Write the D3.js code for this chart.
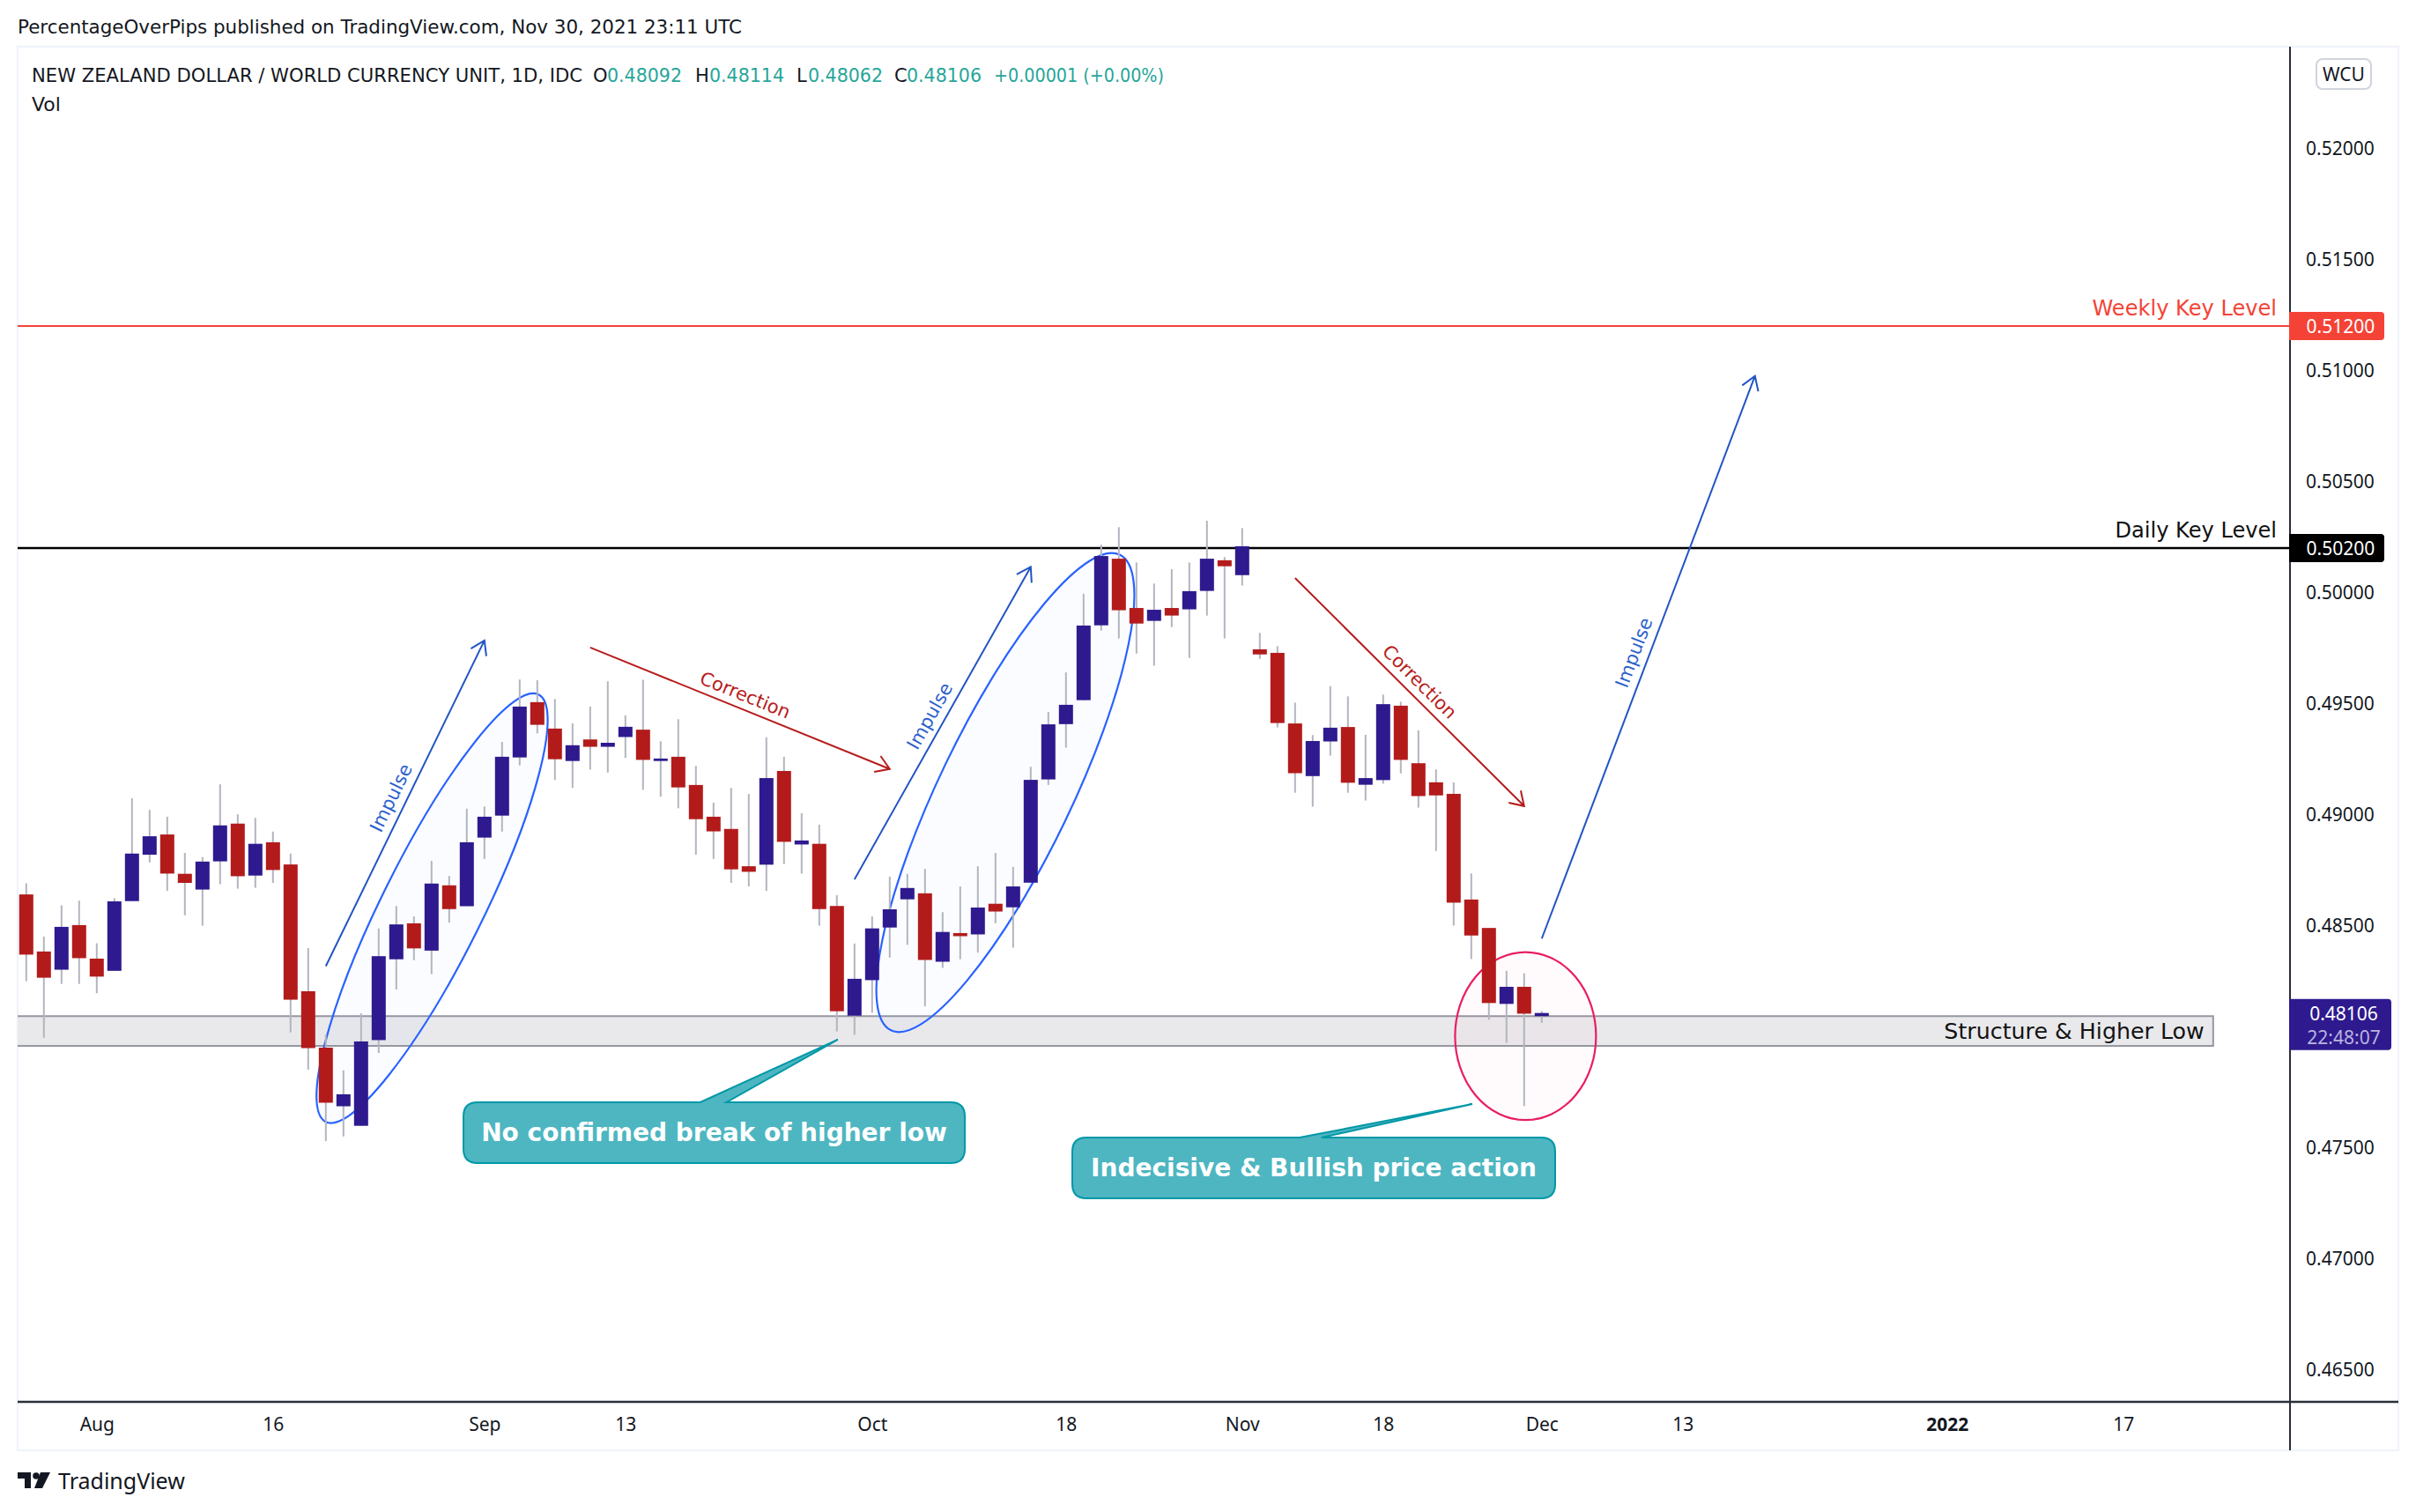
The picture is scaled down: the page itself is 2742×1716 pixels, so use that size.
<!DOCTYPE html>
<html><head><meta charset="utf-8">
<style>html,body{margin:0;padding:0;background:#fff}svg{display:block}</style>
<script src="https://cdn.jsdelivr.net/npm/d3@7/dist/d3.min.js"></script>
</head><body><svg id="c" width="2742" height="1716"></svg>
<script>
const opens=[.48640,.48383,.48301,.48502,.48351,.48296,.48610,.48819,.48910,.48733,.48662,.48789,.48959,.48725,.48875,.48775,.48204,.47950,.47686,.47598,.47984,.48348,.48510,.48387,.48681,.48587,.48896,.48995,.49257,.49506,.49387,.49241,.49338,.49305,.49349,.49382,.49241,.49260,.49133,.48990,.48935,.48767,.48774,.49196,.48865,.48868,.48588,.48094,.48254,.48491,.48618,.48645,.48337,.48466,.48460,.48598,.48582,.48693,.49158,.49407,.49515,.49852,.50152,.49930,.49872,.49930,.49924,.50007,.50145,.50078,.49744,.49728,.49410,.49173,.49329,.49394,.49134,.49155,.49490,.49231,.49145,.49093,.48617,.48489,.48147,.48224,.48092];
const highs=[.48690,.48450,.48591,.48612,.48420,.48623,.49073,.49021,.48990,.48827,.48808,.49136,.49001,.48985,.48923,.48824,.48399,.48008,.47848,.48105,.48487,.48588,.48541,.48791,.48723,.49026,.49036,.49327,.49608,.49605,.49520,.49410,.49486,.49600,.49447,.49607,.49330,.49429,.49219,.49053,.49120,.49093,.49348,.49260,.49006,.48954,.48637,.48419,.48541,.48720,.48733,.48755,.48560,.48676,.48767,.48827,.48764,.49215,.49462,.49640,.49994,.50215,.50294,.50135,.50040,.50105,.50135,.50323,.50159,.50290,.49818,.49758,.49504,.49358,.49578,.49532,.49359,.49540,.49508,.49379,.49203,.49145,.48735,.48489,.48296,.48285,.48114];
const lows=[.48249,.47995,.48237,.48237,.48195,.48296,.48610,.48784,.48656,.48546,.48499,.48686,.48666,.48670,.48692,.48019,.47851,.47529,.47550,.47598,.47926,.48212,.48344,.48281,.48513,.48587,.48800,.48923,.49221,.49365,.49156,.49120,.49202,.49189,.49255,.49111,.49080,.49028,.48819,.48800,.48692,.48676,.48656,.48777,.48734,.48499,.48023,.48008,.48107,.48356,.48413,.48136,.48309,.48348,.48378,.48510,.48400,.48693,.49133,.49301,.49515,.49828,.49793,.49725,.49670,.49844,.49705,.49896,.49793,.50031,.49701,.49392,.49098,.49035,.49265,.49098,.49063,.49139,.49185,.49031,.48836,.48500,.48349,.48075,.47972,.47687,.48062];
const closes=[.48369,.48265,.48494,.48353,.48270,.48609,.48824,.48902,.48734,.48692,.48788,.48951,.48722,.48868,.48750,.48166,.47948,.47702,.47740,.47978,.48362,.48505,.48397,.48689,.48574,.48875,.48990,.49260,.49486,.49404,.49249,.49312,.49305,.49323,.49395,.49246,.49252,.49122,.48979,.48924,.48753,.48742,.49164,.48877,.48883,.48574,.48114,.48260,.48487,.48573,.48669,.48345,.48471,.48452,.48581,.48563,.48676,.49156,.49406,.49494,.49851,.50164,.49920,.49860,.49922,.49896,.50006,.50152,.50118,.50208,.49721,.49412,.49186,.49331,.49391,.49143,.49164,.49497,.49246,.49083,.49086,.48603,.48455,.48151,.48224,.48103,.48106];

const priceTicks=[.465,.47,.475,.48,.485,.49,.495,.5,.505,.51,.515,.52];
const timeTickBars=[4,14,26,34,48,59,69,77,86,94,109,119];
const timeTickLabels=["Aug","16","Sep","13","Oct","18","Nov","18","Dec","13","2022","17"];

const weeklyLevel=.512, dailyLevel=.502, lastPrice=.48106;
const bandTop=.48092, bandBottom=.47958, bandEndBar=124.1;
// drawings anchored in [bar index, price]
const arrowsBlue=[[[17.0,.48317],[26.0,.49784]],[[47.0,.48708],[57.0,.50115]],[[86.0,.48441],[98.1,.50975]]];
const arrowsRed=[[[32.0,.49752],[49.0,.49205]],[[72.0,.50065],[85.0,.49038]]];
const impulseAnchors=[[20.71,.49075],[51.28,.49443],[91.24,.49729]];
const correctionAnchors=[[40.79,.49537],[79.06,.49597]];
// centre, end of major axis, end of minor axis
const ellipsesBlue=[[[23.03,.48578],[29.07,.4954],[25.59,.48477]],[[55.56,.49099],[62.05,.5017],[58.95,.4897]]];
const ellipsesPink=[[[85.08,.48002],[85.08,.4838],[89.08,.48002]]];
// box corners, pointer base bars, tip
const callouts=[
 {text:"No confirmed break of higher low",box:[[24.81,.47704],[53.26,.4743]],base:[38.25,39.74],tip:[46.05,.47986]},
 {text:"Indecisive & Bullish price action",box:[[59.36,.47545],[86.76,.47271]],base:[72.26,73.5],tip:[82.06,.47696]}];

const svg=d3.select("#c");
const FL=20,FR=2722,FT=53,FB=1646,AX=2599,AY=1591;
const x=d3.scaleLinear().domain([0,119]).range([29.8,2409.8]);
const y=d3.scaleLinear().domain([.512,.465]).range([370,1554.4]);
const UI="'Noto Sans',sans-serif", DR="'DejaVu Sans',sans-serif";
const UP="#2e1a8e", DOWN="#b31b1b", WICK="#b2b5be", AXC="#2a2e39", TXT="#131722", TEAL="#26a69a";

svg.append("rect").attr("width",2742).attr("height",1716).attr("fill","#fff");
svg.append("rect").attr("x",FL).attr("y",FT).attr("width",FR-FL).attr("height",FB-FT).attr("fill","#fff").attr("stroke","#f0f3fa").attr("stroke-width",2.4);

svg.append("text").attr("x",20).attr("y",38).attr("font-family",DR).attr("font-size",21).attr("fill",TXT)
 .attr("textLength",822).attr("lengthAdjust","spacingAndGlyphs")
 .text("PercentageOverPips published on TradingView.com, Nov 30, 2021 23:11 UTC");

// band
svg.append("rect").attr("x",FL).attr("y",y(bandTop)).attr("width",x(bandEndBar)-FL).attr("height",y(bandBottom)-y(bandTop)).attr("fill","#e9e9ec");
svg.append("path").attr("d",`M${FL},${y(bandTop)}H${x(bandEndBar)}V${y(bandBottom)}H${FL}`).attr("fill","none").attr("stroke","#9598a1").attr("stroke-width",2);
svg.append("text").attr("x",x(bandEndBar)-10).attr("y",y(bandBottom)-8).attr("text-anchor","end").attr("font-family",DR).attr("font-size",25.3).attr("fill","#131313").text("Structure & Higher Low");

// ellipses
function ellipse(e,stroke,fill){
 const [cx,cy]=[x(e[0][0]),y(e[0][1])],[ax,ay]=[x(e[1][0]),y(e[1][1])],[bx,by]=[x(e[2][0]),y(e[2][1])];
 const a=Math.hypot(ax-cx,ay-cy),b=Math.hypot(bx-cx,by-cy),ang=Math.atan2(ay-cy,ax-cx)*180/Math.PI;
 svg.append("ellipse").attr("rx",a).attr("ry",b).attr("transform",`translate(${cx},${cy}) rotate(${ang})`)
  .attr("fill",fill).attr("stroke",stroke).attr("stroke-width",2.2);
}
ellipsesBlue.forEach(e=>ellipse(e,"#2962ff","rgba(41,98,255,0.018)"));
ellipsesPink.forEach(e=>ellipse(e,"#e91e63","rgba(233,30,99,0.018)"));

// levels
svg.append("line").attr("x1",FL).attr("x2",AX).attr("y1",y(weeklyLevel)).attr("y2",y(weeklyLevel)).attr("stroke","#f44336").attr("stroke-width",2);
svg.append("line").attr("x1",FL).attr("x2",AX).attr("y1",y(dailyLevel)).attr("y2",y(dailyLevel)).attr("stroke","#000").attr("stroke-width",2.4);
svg.append("text").attr("x",2584).attr("y",y(weeklyLevel)-12).attr("text-anchor","end").attr("font-family",DR).attr("font-size",24.1).attr("fill","#f44336").text("Weekly Key Level");
svg.append("text").attr("x",2584).attr("y",y(dailyLevel)-12).attr("text-anchor","end").attr("font-family",DR).attr("font-size",24.1).attr("fill","#111").text("Daily Key Level");

// arrows
function arrow(a,col){
 const [x1,y1]=[x(a[0][0]),y(a[0][1])],[x2,y2]=[x(a[1][0]),y(a[1][1])];
 const t=Math.atan2(y2-y1,x2-x1),L=18,w=Math.PI/5.5;
 svg.append("path").attr("d",`M${x1},${y1}L${x2},${y2}M${x2-L*Math.cos(t-w)},${y2-L*Math.sin(t-w)}L${x2},${y2}L${x2-L*Math.cos(t+w)},${y2-L*Math.sin(t+w)}`)
  .attr("fill","none").attr("stroke",col).attr("stroke-width",2);
 return t*180/Math.PI;
}
const BLUE="#2255c4",RED="#b71c1c";
const blueAngles=arrowsBlue.map(a=>arrow(a,BLUE));
const redAngles=arrowsRed.map(a=>arrow(a,RED));
function rotText(p,ang,txt,col){
 svg.append("text").attr("transform",`translate(${x(p[0])},${y(p[1])}) rotate(${ang})`).attr("text-anchor","middle").attr("dominant-baseline","central")
  .attr("font-family",DR).attr("font-size",21).attr("fill",col).text(txt);
}
impulseAnchors.forEach((p,i)=>rotText(p,blueAngles[i],"Impulse","#2e62cc"));
correctionAnchors.forEach((p,i)=>rotText(p,redAngles[i],"Correction",RED));

// callouts
callouts.forEach(c=>{
 const l=x(c.box[0][0]),t=y(c.box[0][1]),r=x(c.box[1][0]),b=y(c.box[1][1]),R=16;
 const b1=x(c.base[0]),b2=x(c.base[1]),tx=x(c.tip[0]),ty=y(c.tip[1]);
 svg.append("path").attr("d",`M${l+R},${t}L${b1},${t}L${tx},${ty}L${b2},${t}L${r-R},${t}Q${r},${t} ${r},${t+R}L${r},${b-R}Q${r},${b} ${r-R},${b}L${l+R},${b}Q${l},${b} ${l},${b-R}L${l},${t+R}Q${l},${t} ${l+R},${t}Z`)
  .attr("fill","#4db6c1").attr("stroke","#0097a7").attr("stroke-width",2);
 svg.append("text").attr("x",(l+r)/2).attr("y",(t+b)/2).attr("text-anchor","middle").attr("dominant-baseline","central")
  .attr("font-family",DR).attr("font-weight","bold").attr("font-size",28).attr("fill","#fff").text(c.text);
});

// candles
const idx=d3.range(opens.length);
svg.append("g").selectAll("line").data(idx).join("line")
 .attr("x1",i=>x(i)).attr("x2",i=>x(i)).attr("y1",i=>y(highs[i])).attr("y2",i=>y(lows[i])).attr("stroke",WICK).attr("stroke-width",2);
svg.append("g").selectAll("rect").data(idx).join("rect")
 .attr("x",i=>x(i)-8).attr("width",16).attr("y",i=>y(Math.max(opens[i],closes[i])))
 .attr("height",i=>Math.max(2,Math.abs(y(opens[i])-y(closes[i]))))
 .attr("fill",i=>closes[i]>=opens[i]?UP:DOWN);

// axes
const gy=svg.append("g").attr("transform",`translate(${AX},0.6)`).call(d3.axisRight(y).tickValues(priceTicks).tickFormat(d3.format(".5f")).tickSize(0).tickPadding(18));
gy.select(".domain").remove();
gy.selectAll("text").attr("font-family",UI).attr("font-size",21).attr("fill",TXT);
const gx=svg.append("g").attr("transform",`translate(0,${AY})`).call(d3.axisBottom(x).tickValues(timeTickBars).tickFormat((d,i)=>timeTickLabels[i]).tickSize(0).tickPadding(18));
gx.select(".domain").remove();
gx.selectAll("text").attr("font-family",UI).attr("font-size",21).attr("fill",TXT).attr("font-weight",(d,i)=>timeTickLabels[i]==="2022"?"bold":"normal");
svg.append("line").attr("x1",FL).attr("x2",FR).attr("y1",AY).attr("y2",AY).attr("stroke",AXC).attr("stroke-width",2.4);
svg.append("line").attr("x1",AX).attr("x2",AX).attr("y1",FT).attr("y2",FB).attr("stroke",AXC).attr("stroke-width",2);

// WCU
svg.append("rect").attr("x",2629).attr("y",67).attr("width",62).attr("height",34).attr("rx",7).attr("fill","#fff").attr("stroke","#d1d4dc").attr("stroke-width",2);
svg.append("text").attr("x",2660).attr("y",84).attr("text-anchor","middle").attr("dominant-baseline","central").attr("font-family",UI).attr("font-size",21).attr("fill",TXT).text("WCU");

// price labels
function label(p,col,h,w){
 const yy=y(p);
 svg.append("path").attr("d",`M${AX-1},${yy-h/2}H${AX+w-4}Q${AX+w},${yy-h/2} ${AX+w},${yy-h/2+4}V${yy+h/2-4}Q${AX+w},${yy+h/2} ${AX+w-4},${yy+h/2}H${AX-1}Z`).attr("fill",col);
 svg.append("text").attr("x",2617.5).attr("y",yy).attr("dominant-baseline","central").attr("font-family",UI).attr("font-size",21).attr("fill","#fff").text(d3.format(".5f")(p));
}
label(weeklyLevel,"#f44336",32,107);
label(dailyLevel,"#000",32,107);
{
 const yy=y(lastPrice);
 svg.append("path").attr("d",`M${AX-1},${yy-16}H${AX+111}Q${AX+115},${yy-16} ${AX+115},${yy-12}V${yy+38}Q${AX+115},${yy+42} ${AX+111},${yy+42}H${AX-1}Z`).attr("fill",UP);
 svg.append("text").attr("x",2660).attr("y",yy+0).attr("text-anchor","middle").attr("dominant-baseline","central").attr("font-family",UI).attr("font-size",21).attr("fill","#fff").text(d3.format(".5f")(lastPrice));
 svg.append("text").attr("x",2660).attr("y",yy+27).attr("text-anchor","middle").attr("dominant-baseline","central").attr("font-family",UI).attr("font-size",21).attr("fill","#b9b3e0").text("22:48:07");
}

// legend
const legendY=93;
function leg(tx,txt,col,len){const t=svg.append("text").attr("x",tx).attr("y",legendY).attr("font-family",DR).attr("font-size",21).attr("fill",col).text(txt);
 if(len)t.attr("textLength",len).attr("lengthAdjust","spacingAndGlyphs");}
leg(36,"NEW ZEALAND DOLLAR / WORLD CURRENCY UNIT, 1D, IDC",TXT,625);
leg(673,"O",TXT);leg(689,"0.48092",TEAL,85);
leg(789,"H",TXT);leg(805,"0.48114",TEAL,85);
leg(904,"L",TXT);leg(917,"0.48062",TEAL,85);
leg(1015,"C",TXT);leg(1029,"0.48106",TEAL,85);
leg(1128,"+0.00001 (+0.00%)",TEAL,193);
svg.append("text").attr("x",36).attr("y",126).attr("font-family",DR).attr("font-size",22).attr("fill",TXT).text("Vol");

// logo
svg.append("path").attr("d","M20,1671H35V1689H28V1678H20Z M46,1671H57L48,1689H39Z").attr("fill",TXT);
svg.append("circle").attr("cx",41).attr("cy",1675).attr("r",3.8).attr("fill",TXT);
svg.append("text").attr("x",66).attr("y",1690).attr("font-family",UI).attr("font-size",25).attr("fill",TXT).text("TradingView");
</script></body></html>
